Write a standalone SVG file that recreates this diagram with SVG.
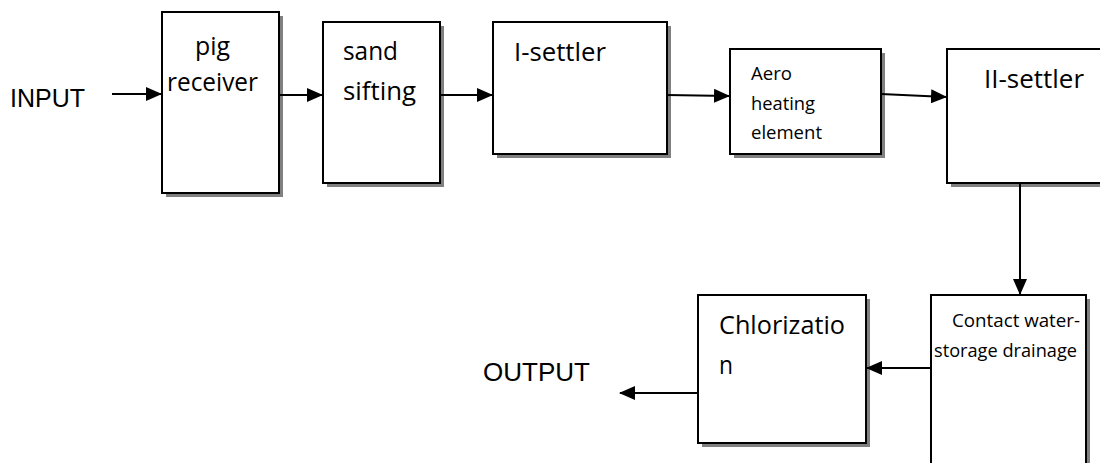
<svg xmlns="http://www.w3.org/2000/svg" width="1100" height="463" viewBox="0 0 1100 463">
<defs>
<style>
.box{fill:#fff;stroke:#000;stroke-width:2}
.sh{fill:#808080}
.t{font-family:"Open Sans","DejaVu Sans",sans-serif;font-size:25px;fill:#000}
.s{font-family:"Open Sans","DejaVu Sans",sans-serif;font-size:18px;fill:#000}
.a{font-family:"Liberation Sans",Arial,sans-serif;font-size:25px;fill:#000}
.c{fill:none;stroke:#000;stroke-width:2}
</style>
<marker id="ah" markerUnits="userSpaceOnUse" markerWidth="16" markerHeight="14" refX="15" refY="7" orient="auto">
<path d="M0,0 L16,7 L0,14 Z" fill="#000"/>
</marker>
</defs>
<rect width="1100" height="463" fill="#fff"/>

<text class="a" x="10" y="107" textLength="75" lengthAdjust="spacingAndGlyphs">INPUT</text>
<text class="a" x="483" y="381" textLength="107" lengthAdjust="spacingAndGlyphs">OUTPUT</text>

<g id="pig-receiver">
<rect class="sh" x="166" y="16" width="117" height="181"/>
<rect class="box" x="162" y="12" width="117" height="181"/>
<text class="t" x="195" y="55" textLength="35" lengthAdjust="spacingAndGlyphs">pig</text>
<text class="t" x="167" y="91" textLength="91" lengthAdjust="spacingAndGlyphs">receiver</text>
</g>

<g id="sand-sifting">
<rect class="sh" x="327" y="26" width="117" height="161"/>
<rect class="box" x="323" y="22" width="117" height="161"/>
<text class="t" x="343" y="60" textLength="55" lengthAdjust="spacingAndGlyphs">sand</text>
<text class="t" x="343" y="100" textLength="73" lengthAdjust="spacingAndGlyphs">sifting</text>
</g>

<g id="i-settler">
<rect class="sh" x="497" y="26" width="174" height="132"/>
<rect class="box" x="493" y="22" width="174" height="132"/>
<text class="t" x="514" y="61" textLength="92" lengthAdjust="spacingAndGlyphs">I-settler</text>
</g>

<g id="aero-heating">
<rect class="sh" x="734" y="53" width="151" height="105"/>
<rect class="box" x="730" y="49" width="151" height="105"/>
<text class="s" x="751" y="80" textLength="41" lengthAdjust="spacingAndGlyphs">Aero</text>
<text class="s" x="751" y="110" textLength="64" lengthAdjust="spacingAndGlyphs">heating</text>
<text class="s" x="751" y="139" textLength="71" lengthAdjust="spacingAndGlyphs">element</text>
</g>

<g id="ii-settler">
<rect class="sh" x="951" y="53" width="170" height="134"/>
<rect class="box" x="947" y="49" width="170" height="134"/>
<text class="t" x="984" y="88" textLength="100" lengthAdjust="spacingAndGlyphs">II-settler</text>
</g>

<g id="contact-water">
<rect class="sh" x="935" y="299" width="155" height="200"/>
<rect class="box" x="931" y="295" width="155" height="200"/>
<text class="s" x="952" y="327" textLength="128" lengthAdjust="spacingAndGlyphs">Contact water-</text>
<text class="s" x="934" y="357" textLength="143" lengthAdjust="spacingAndGlyphs">storage drainage</text>
</g>

<g id="chlorization">
<rect class="sh" x="702" y="299" width="168" height="148"/>
<rect class="box" x="698" y="295" width="168" height="148"/>
<text class="t" x="719" y="334" textLength="126" lengthAdjust="spacingAndGlyphs">Chlorizatio</text>
<text class="t" x="719" y="374" textLength="14" lengthAdjust="spacingAndGlyphs">n</text>
</g>

<g id="connectors">
<line class="c" x1="112" y1="94" x2="161" y2="94" marker-end="url(#ah)"/>
<line class="c" x1="279" y1="95" x2="322" y2="95" marker-end="url(#ah)"/>
<line class="c" x1="440" y1="95" x2="492" y2="95" marker-end="url(#ah)"/>
<line class="c" x1="667" y1="95" x2="729" y2="96" marker-end="url(#ah)"/>
<line class="c" x1="881" y1="94" x2="946" y2="97" marker-end="url(#ah)"/>
<line class="c" x1="1020" y1="184" x2="1020" y2="294" marker-end="url(#ah)"/>
<line class="c" x1="931" y1="368" x2="867" y2="368" marker-end="url(#ah)"/>
<line class="c" x1="698" y1="393" x2="620" y2="393" marker-end="url(#ah)"/>
</g>
</svg>
